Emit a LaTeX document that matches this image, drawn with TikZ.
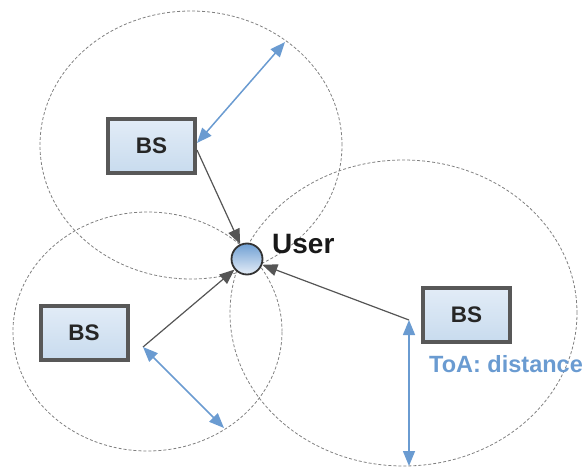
\documentclass[tikz,border=0pt]{standalone}
\usepackage{fontspec}
\setmainfont{Liberation Sans}
\usetikzlibrary{arrows.meta,shapes.geometric}
\definecolor{ringgray}{HTML}{808080}
\definecolor{boxborder}{HTML}{585858}
\definecolor{boxtop}{HTML}{E2ECF7}
\definecolor{boxbot}{HTML}{C8DBEE}
\definecolor{toablue}{HTML}{6A9BD1}
\definecolor{linkgray}{HTML}{555555}
\definecolor{usertop}{HTML}{6F9FD3}
\definecolor{userbot}{HTML}{E6EEF8}
\tikzset{
  ring/.style={draw=ringgray, line width=0.8pt, dash pattern=on 3pt off 2pt},
  bsbox/.style={draw=boxborder, line width=4pt, top color=boxtop, bottom color=boxbot,
    minimum width=87pt, minimum height=54pt, inner sep=0pt,
    font=\fontsize{22.5}{26}\selectfont\bfseries, text=black!85},
  usernode/.style={circle, draw=black!80, line width=1.8pt, top color=usertop, bottom color=userbot,
    minimum size=31pt, inner sep=0pt},
  link/.style={draw=linkgray, line width=1.2pt, -{Triangle[length=15pt,width=12pt]}},
  toa/.style={draw=toablue, line width=1.5pt, {Triangle[length=15pt,width=12pt]}-{Triangle[length=15pt,width=12pt]}}
}
\begin{document}
\begin{tikzpicture}[x=1pt,y=-1pt]
\useasboundingbox (0,0) rectangle (583,468);
% range rings
\draw[ring] (191,145) ellipse [x radius=151pt, y radius=134pt];
\draw[ring] (147.5,331.5) ellipse [x radius=134.5pt, y radius=119.5pt];
\draw[ring] (403.5,313) ellipse [x radius=173.5pt, y radius=153pt];
% nodes
\node[bsbox] (b1) at (151.5,146) {BS};
\node[bsbox] (b2) at (84,332.5) {BS};
\node[bsbox] (b3) at (466.5,315) {BS};
\node[usernode] (user) at (247,259) {};
\node[anchor=base west, font=\fontsize{28}{32}\selectfont\bfseries, text=black!90, inner sep=0pt] (ulab) at (272,253) {User};
\node[anchor=base west, font=\fontsize{23.5}{27}\selectfont\bfseries, text=toablue, inner sep=0pt] (toalab) at (429,372) {ToA: distance};
% anchor points
\coordinate (s1) at (197,150);
\coordinate (t1) at (197,143);
\coordinate (t2) at (285,42);
\coordinate (s2) at (143,347);
\coordinate (e2) at (224,428);
\coordinate (s3) at (409,320);
\coordinate (e3) at (409,466);
% connectors
\draw[link] (s1) -- (user);
\draw[link] (s2) -- (user);
\draw[link] (s3) -- (user);
\draw[toa] (t1) -- (t2);
\draw[toa] (s2) -- (e2);
\draw[toa] (s3) -- (e3);
\end{tikzpicture}
\end{document}
